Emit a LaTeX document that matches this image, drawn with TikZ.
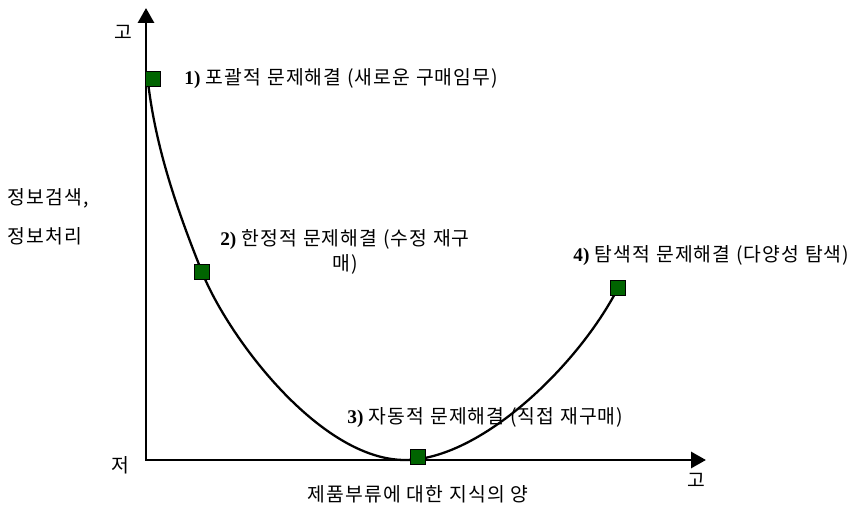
\documentclass[tikz,border=0pt]{standalone}
\usepackage{fontspec}
\setmainfont{Noto Sans CJK KR}[LetterSpace=6]
\newfontfamily\numfont{Liberation Serif}
\usetikzlibrary{arrows.meta,positioning}
\definecolor{markgreen}{RGB}{0,100,0}

\begin{document}
\begin{tikzpicture}[x=0.02cm, y=-0.02cm, font=\fontsize{11}{13}\selectfont,
  sqmark/.style={draw=black, line width=0.4pt, fill=markgreen, minimum size=0.31cm, inner sep=0pt},
  lbl/.style={inner sep=0pt}]
\useasboundingbox (0,0) rectangle (849,506);
% axes
\coordinate (O) at (146,460);
\coordinate (ytip) at (146,8);
\coordinate (xtip) at (706,460);
\draw[line width=1.7pt, {Triangle[length=0.3cm,width=0.32cm]}-{Triangle[length=0.3cm,width=0.32cm]}] (ytip) -- (O) -- (xtip);
\node[lbl] (yhi) at (123,32) {고};
\node[lbl] (ylo) at (120,465) {저};
\node[lbl] (xhi) at (696,480) {고};
\node[lbl] (xtitle) at (418,494) {제품부류에 대한 지식의 양};
\node[lbl, align=left, anchor=west] (ytitle) at (7,217) {정보검색,\\[9pt]정보처리};
% curve
\coordinate (c0) at (148,82);
\coordinate (c2) at (202,272);
\coordinate (bot) at (405,460);
\coordinate (c4) at (618,288);
\draw[line width=1.3pt] (c0) .. controls (156,150) and (178,212) .. (c2)
  .. controls (228,337) and (320,460) .. (bot)
  .. controls (480,460) and (578,366) .. (c4);
\node[sqmark] (m1) at (153,79) {};
\node[sqmark] (m2) at (c2) {};
\node[sqmark] (m3) at (418,457) {};
\node[sqmark] (m4) at (c4) {};
% labels
\node[lbl, anchor=west] (l1) at (184,79) {{\numfont\bfseries 1)} 포괄적 문제해결 (새로운 구매임무)};
\node[lbl, align=center] (l2) at (345,252) {{\numfont\bfseries 2)} 한정적 문제해결 (수정 재구\\[1pt]매)};
\node[lbl, anchor=west] (l3) at (347,418) {{\numfont\bfseries 3)} 자동적 문제해결 (직접 재구매)};
\node[lbl, anchor=west] (l4) at (573,256) {{\numfont\bfseries 4)} 탐색적 문제해결 (다양성 탐색)};
\end{tikzpicture}
\end{document}
